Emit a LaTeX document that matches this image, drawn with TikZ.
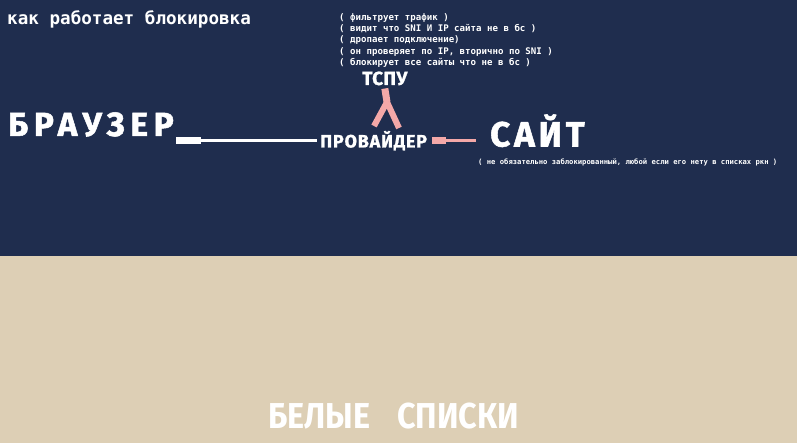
\documentclass[tikz,border=0pt]{standalone}
\usepackage{fontspec}
\setsansfont{Fira Sans}
\setmonofont{DejaVu Sans Mono}

\begin{document}
\begin{tikzpicture}[x=1pt,y=-1pt,inner sep=0pt,
	head node/.style={anchor=base west,text=white},
	mono node/.style={anchor=base west,text=white,align=left},
	wire/.style={draw=white,line width=3pt},
	pink wire/.style={draw=pinkline,line width=3pt}]
	
	\definecolor{navy}{RGB}{31,45,78}
	\definecolor{sand}{RGB}{221,207,181}
	\definecolor{pinkline}{RGB}{244,168,168}
	
	\fill[navy] (0,0) rectangle (797,256);
	\fill[sand] (0,256) rectangle (797,443);
	\useasboundingbox (0,0) rectangle (797,443);
	
	\node[mono node, font={\ttfamily\bfseries\fontsize{17.6}{20}\selectfont}] (title) at (7,25) {как работает блокировка};
	% base of a multi-line node = last line
	\node[mono node, font={\ttfamily\bfseries\fontsize{9.1}{11.2}\selectfont}] (notes) at (339,65.3)
	{( фильтрует трафик )\\( видит что SNI И IP сайта не в бс )\\( дропает подключение)\\( он проверяет по IP, вторично по SNI )\\( блокирует все сайты что не в бс )};
	
	\node[head node, font={\sffamily\bfseries\fontsize{19}{22}\selectfont\addfontfeatures{FakeBold=1,LetterSpace=2}}] (tspu) at (362,85) {ТСПУ};
	\node[head node, font={\sffamily\bfseries\fontsize{33.5}{36}\selectfont\addfontfeatures{FakeBold=1.5,LetterSpace=17}}] (browser) at (8,136) {БРАУЗЕР};
	\node[head node, font={\sffamily\bfseries\fontsize{18}{20}\selectfont\addfontfeatures{FakeBold=1,LetterSpace=4.5}}] (provider) at (320,147.5) {ПРОВАЙДЕР};
	\node[head node, font={\sffamily\bfseries\fontsize{35}{38}\selectfont\addfontfeatures{FakeBold=1.5,LetterSpace=11}}] (site) at (490,146.5) {САЙТ};
	\node[mono node, font={\ttfamily\bfseries\fontsize{7.2}{9}\selectfont}] (sitenote) at (478,165) {( не обязательно заблокированный, любой если его нету в списках ркн )};
	\node[head node, font={\sffamily\bfseries\fontsize{36}{40}\selectfont\addfontfeatures{FakeStretch=0.9}}] (white) at (268,428) {БЕЛЫЕ\hspace{27pt}СПИСКИ};
	
	% browser -- provider
	\draw[wire, line width=7pt] (176,0 |- provider.west) -- ++(25,0);
	\draw[wire] (176,0 |- provider.west) -- ([xshift=-3pt]provider.west);
	% provider -- site
	\draw[pink wire, line width=7pt] (432,0 |- provider.east) -- ++(14,0);
	\draw[pink wire] (432,0 |- provider.east) -- ([xshift=-14pt]site.west |- provider.east);
	% provider -- tspu
	\coordinate (fork) at (387,102);
	\coordinate (legl) at (374,126);
	\coordinate (legr) at (399,128);
	\draw[pink wire, line width=7pt] ([yshift=-3pt]tspu.south) -- (fork);
	\draw[pink wire, line width=6pt] (fork) -- (legl);
	\draw[pink wire, line width=6pt] (fork) -- (legr);
\end{tikzpicture}
\end{document}
